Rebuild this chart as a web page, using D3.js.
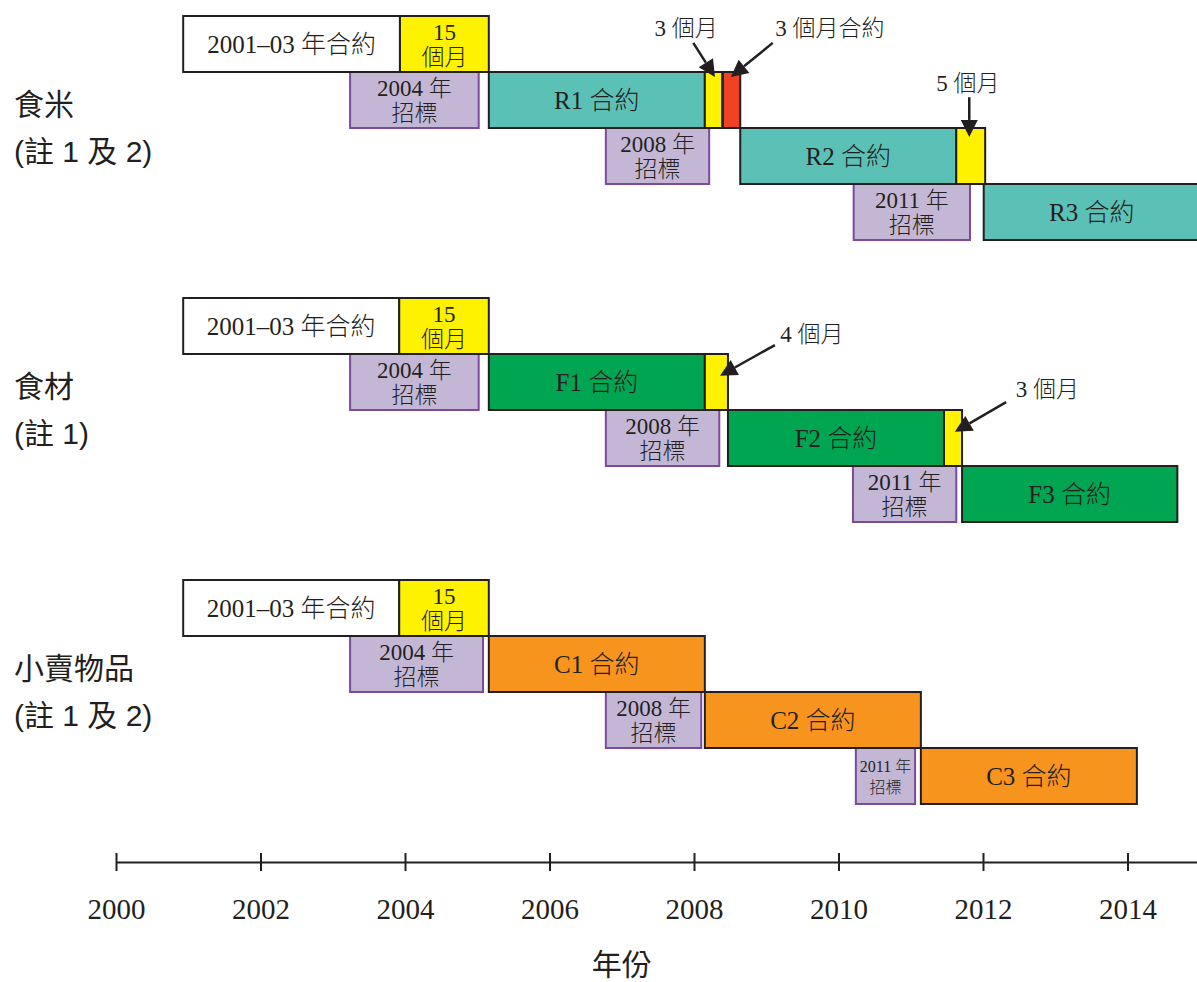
<!DOCTYPE html>
<html>
<head>
<meta charset="utf-8">
<script src="https://cdn.jsdelivr.net/npm/d3@7"></script>
<style>
  html, body { margin: 0; padding: 0; background: #ffffff; }
  svg { display: block; }
</style>
</head>
<body>
<svg id="chart" width="1197" height="982"></svg>
<script>
// ---------- DATA ----------
const groups = ["食米", "食材", "小賣物品"];
const groupNotes = ["(註 1 及 2)", "(註 1)", "(註 1 及 2)"];
const tickYears = [2000, 2002, 2004, 2006, 2008, 2010, 2012, 2014];
const axisTitle = "年份";

// [start year, end year, lane, kind, label lines]
const riceBars = [
  [2000.93, 2003.93, 0, "old", ["2001–03 年合約"]],
  [2003.93, 2005.16, 0, "ext", ["15", "個月"]],
  [2003.24, 2005.02, 1, "tender", ["2004 年", "招標"]],
  [2005.16, 2008.15, 1, "contract", ["R1 合約"]],
  [2008.15, 2008.39, 1, "ext", []],
  [2008.40, 2008.64, 1, "interim", []],
  [2006.78, 2008.21, 2, "tender", ["2008 年", "招標"]],
  [2008.64, 2011.63, 2, "contract", ["R2 合約"]],
  [2011.63, 2012.03, 2, "ext", []],
  [2010.21, 2011.82, 3, "tender", ["2011 年", "招標"]],
  [2012.01, 2015.00, 3, "contract", ["R3 合約"]]
];
const feedBars = [
  [2000.93, 2003.92, 0, "old", ["2001–03 年合約"]],
  [2003.92, 2005.16, 0, "ext", ["15", "個月"]],
  [2003.24, 2005.02, 1, "tender", ["2004 年", "招標"]],
  [2005.16, 2008.15, 1, "contract", ["F1 合約"]],
  [2008.15, 2008.47, 1, "ext", []],
  [2006.78, 2008.35, 2, "tender", ["2008 年", "招標"]],
  [2008.47, 2011.46, 2, "contract", ["F2 合約"]],
  [2011.46, 2011.71, 2, "ext", []],
  [2010.20, 2011.63, 3, "tender", ["2011 年", "招標"]],
  [2011.71, 2014.69, 3, "contract", ["F3 合約"]]
];
const snackBars = [
  [2000.93, 2003.92, 0, "old", ["2001–03 年合約"]],
  [2003.92, 2005.16, 0, "ext", ["15", "個月"]],
  [2003.24, 2005.08, 1, "tender", ["2004 年", "招標"]],
  [2005.16, 2008.15, 1, "contract", ["C1 合約"]],
  [2006.78, 2008.10, 2, "tender", ["2008 年", "招標"]],
  [2008.15, 2011.14, 2, "contract", ["C2 合約"]],
  [2010.24, 2011.06, 3, "tender", ["2011 年", "招標"]],
  [2011.14, 2014.13, 3, "contract", ["C3 合約"]]
];
const groupBars = [riceBars, feedBars, snackBars];

// annotations: [group index, text, text year, text lane, tail year, tail lane, tip year, tip lane]
const notes = [
  [0, "3 個月", 7.89, 0.20, 7.99, 0.48, 8.29, 1.09],
  [0, "3 個月合約", 9.88, 0.20, 9.09, 0.48, 8.51, 1.09],
  [0, "5 個月", 11.79, 1.18, 11.81, 1.45, 11.81, 2.16],
  [1, "4 個月", 9.63, 0.62, 9.12, 0.84, 8.36, 1.39],
  [1, "3 個月", 12.89, 1.61, 12.32, 1.86, 11.61, 2.39]
];

// ---------- STYLE ----------
const contractColors = ["#5bc0b5", "#00a551", "#f7941d"];
const ink = "#231f20";
const serif = "'Liberation Serif', 'Times New Roman', 'Noto Sans CJK TC', serif";
const sans = "'Liberation Sans', 'Noto Sans CJK TC', sans-serif";
const boxWeight = 300;

const svg = d3.select("#chart");

const x = d3.scaleLinear().domain([2000, 2015]).range([116, 116 + 15 * 72.25]);
const gy = d3.scalePoint().domain(groups).range([16, 580]);
const laneY = d3.scaleLinear().domain([0, 1]).range([0, 56]);

function fillFor(kind, gi) {
  if (kind === "old") return "#ffffff";
  if (kind === "ext") return "#fff200";
  if (kind === "interim") return "#ef4123";
  if (kind === "tender") return "#c4b7d6";
  return contractColors[gi];
}
function strokeFor(kind) {
  return kind === "tender" ? "#7b4a9c" : ink;
}

groups.forEach((g, gi) => {
  const top = gy(g);
  const layer = svg.append("g");
  const bars = groupBars[gi];

  const order = bars.slice().sort((a, b) => (a[3] === "tender" ? 0 : 1) - (b[3] === "tender" ? 0 : 1));
  order.forEach(b => {
    const [s, e, lane, kind, label] = b;
    const x0 = x(s), x1 = x(e);
    const y0 = top + laneY(lane), h = laneY(1);
    layer.append("rect")
      .attr("x", x0).attr("y", y0)
      .attr("width", x1 - x0).attr("height", h)
      .attr("fill", fillFor(kind, gi))
      .attr("stroke", strokeFor(kind))
      .attr("stroke-width", 2);
    const cx = (x0 + x1) / 2, cy = y0 + h / 2;
    if (label && label.length === 1) {
      layer.append("text")
        .attr("x", cx).attr("y", cy + 9)
        .attr("text-anchor", "middle")
        .attr("font-family", serif)
        .attr("font-weight", boxWeight)
        .attr("font-size", 25)
        .attr("fill", ink)
        .text(label[0]);
    } else if (label && label.length === 2) {
      const small = (x1 - x0) < 80;
      const fs = small ? 16 : 23;
      const d1 = -4, d2 = small ? 17 : 21;
      [label[0], label[1]].forEach((t, i) => {
        layer.append("text")
          .attr("x", cx).attr("y", cy + (i === 0 ? d1 : d2))
          .attr("text-anchor", "middle")
          .attr("font-family", serif)
          .attr("font-weight", boxWeight)
          .attr("font-size", fs)
          .attr("fill", ink)
          .text(t);
      });
    }
  });

  // group labels
  svg.append("text")
    .attr("x", 14).attr("y", top + 99)
    .attr("font-family", sans).attr("font-size", 30).attr("fill", ink)
    .text(g);
  svg.append("text")
    .attr("x", 14).attr("y", top + 146)
    .attr("font-family", sans).attr("font-size", 30).attr("fill", ink)
    .text(groupNotes[gi]);
});

// annotations with arrows
notes.forEach(n => {
  const [gi, txt, tx, tl, ax, al, bx, bl] = n;
  const top = gy(groups[gi]);
  const px = v => x(2000 + v);
  const py = l => top + laneY(l);
  const X0 = px(ax), Y0 = py(al), X1 = px(bx), Y1 = py(bl);
  const ang = Math.atan2(Y1 - Y0, X1 - X0);
  const headL = 17, headW = 8.5;
  const bxp = X1 - headL * Math.cos(ang), byp = Y1 - headL * Math.sin(ang);
  svg.append("line")
    .attr("x1", X0).attr("y1", Y0).attr("x2", bxp).attr("y2", byp)
    .attr("stroke", ink).attr("stroke-width", 2.5);
  const nx = -Math.sin(ang), ny = Math.cos(ang);
  svg.append("polygon")
    .attr("points", [
      [X1, Y1],
      [bxp + nx * headW, byp + ny * headW],
      [bxp - nx * headW, byp - ny * headW]
    ].map(p => p.join(",")).join(" "))
    .attr("fill", ink);
  svg.append("text")
    .attr("x", px(tx)).attr("y", py(tl) + 9)
    .attr("text-anchor", "middle")
    .attr("font-family", serif).attr("font-weight", boxWeight)
    .attr("font-size", 23).attr("fill", ink)
    .text(txt);
});

// axis
const axisY = 862;
const axis = d3.axisBottom(x)
  .tickValues(tickYears)
  .tickFormat(d3.format("d"))
  .tickSizeOuter(0)
  .tickSizeInner(9)
  .tickPadding(0);
const ag = svg.append("g").attr("transform", `translate(0,${axisY})`).call(axis);
ag.select(".domain").attr("stroke", ink).attr("stroke-width", 2);
ag.selectAll(".tick line").attr("y1", -9).attr("y2", 9).attr("stroke", ink).attr("stroke-width", 2);
ag.selectAll(".tick text")
  .attr("y", 57).attr("dy", null)
  .attr("font-family", serif).attr("font-size", 29).attr("fill", ink);

svg.append("text")
  .attr("x", x(2007)).attr("y", 975)
  .attr("text-anchor", "middle")
  .attr("font-family", sans).attr("font-size", 30).attr("fill", ink)
  .text(axisTitle);
</script>
</body>
</html>
